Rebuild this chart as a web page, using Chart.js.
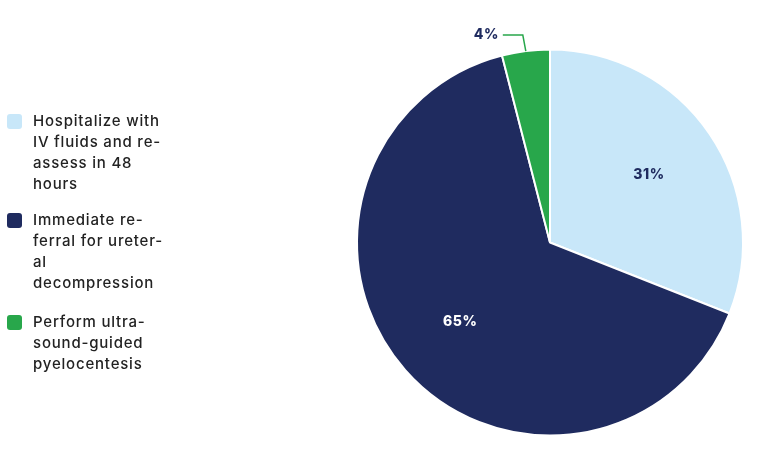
<!DOCTYPE html>
<html>
<head>
<meta charset="utf-8">
<script src="https://cdn.jsdelivr.net/npm/chart.js@4/dist/chart.umd.min.js"></script>
<style>
  html, body { margin: 0; padding: 0; background: #fff; }
  #wrap { position: relative; width: 763px; height: 455px; }
</style>
</head>
<body>
<div id="wrap"><canvas id="c" width="763" height="455"></canvas></div>
<script>
// data
const categories = [
  ["Hospitalize with", "IV fluids and re-", "assess in 48", "hours"],
  ["Immediate re-", "ferral for ureter-", "al", "decompression"],
  ["Perform ultra-", "sound-guided", "pyelocentesis"]
];
const shares = [31, 65, 4];
const sliceColors = ["#c8e7f9", "#1f2b5f", "#28a74b"];
const valueColors = ["#1f2b5f", "#ffffff", "#1f2b5f"];

const FONT = "Inter, 'Noto Sans', sans-serif";

// legend drawn on the left, box aligned with first line
const sideLegend = {
  id: "sideLegend",
  afterDraw(chart) {
    const ctx = chart.ctx;
    ctx.save();
    ctx.font = "500 15px " + FONT;
    ctx.letterSpacing = "0.8px";
    ctx.textBaseline = "middle";
    let y = 121;
    categories.forEach((lines, i) => {
      ctx.fillStyle = sliceColors[i];
      ctx.beginPath();
      ctx.roundRect(7, y - 7, 15, 15, 3);
      ctx.fill();
      ctx.fillStyle = "#222222";
      lines.forEach((t, k) => ctx.fillText(t, 33, y + k * 21));
      y += lines.length * 21 + (i === 0 ? 15 : 18);
    });
    ctx.restore();
  }
};

// percentage labels: inside for big slices, leader line for small one
const sliceLabels = {
  id: "sliceLabels",
  afterDatasetsDraw(chart) {
    const ctx = chart.ctx;
    const meta = chart.getDatasetMeta(0);
    ctx.save();
    ctx.font = "800 14px " + FONT;
    ctx.letterSpacing = "0.5px";
    ctx.textBaseline = "middle";
    meta.data.forEach((arc, i) => {
      const p = arc.getProps(["x", "y", "startAngle", "endAngle", "outerRadius"], true);
      const mid = (p.startAngle + p.endAngle) / 2;
      const txt = shares[i] + "%";
      if (shares[i] >= 10) {
        const r = p.outerRadius * 0.62;
        ctx.fillStyle = valueColors[i];
        ctx.textAlign = "center";
        ctx.fillText(txt, p.x + Math.cos(mid) * r, p.y + Math.sin(mid) * r);
      } else {
        const ex = p.x + Math.cos(mid) * p.outerRadius;
        const ey = p.y + Math.sin(mid) * p.outerRadius;
        const ky = ey - 16;
        const kx = ex - 3;
        ctx.strokeStyle = sliceColors[i];
        ctx.lineWidth = 1.5;
        ctx.beginPath();
        ctx.moveTo(ex, ey);
        ctx.lineTo(kx, ky);
        ctx.lineTo(kx - 20, ky);
        ctx.stroke();
        ctx.fillStyle = valueColors[i];
        ctx.textAlign = "right";
        ctx.fillText(txt, kx - 24, ky);
      }
    });
    ctx.restore();
  }
};

new Chart(document.getElementById("c"), {
  type: "pie",
  data: {
    labels: categories.map(l => l.join(" ")),
    datasets: [{
      data: shares,
      backgroundColor: sliceColors,
      borderColor: "#ffffff",
      borderWidth: 2
    }]
  },
  options: {
    responsive: false,
    animation: false,
    layout: { padding: { left: 356, right: 19, top: 48, bottom: 18 } },
    plugins: {
      legend: { display: false },
      tooltip: { enabled: false }
    }
  },
  plugins: [sideLegend, sliceLabels]
});
</script>
</body>
</html>
